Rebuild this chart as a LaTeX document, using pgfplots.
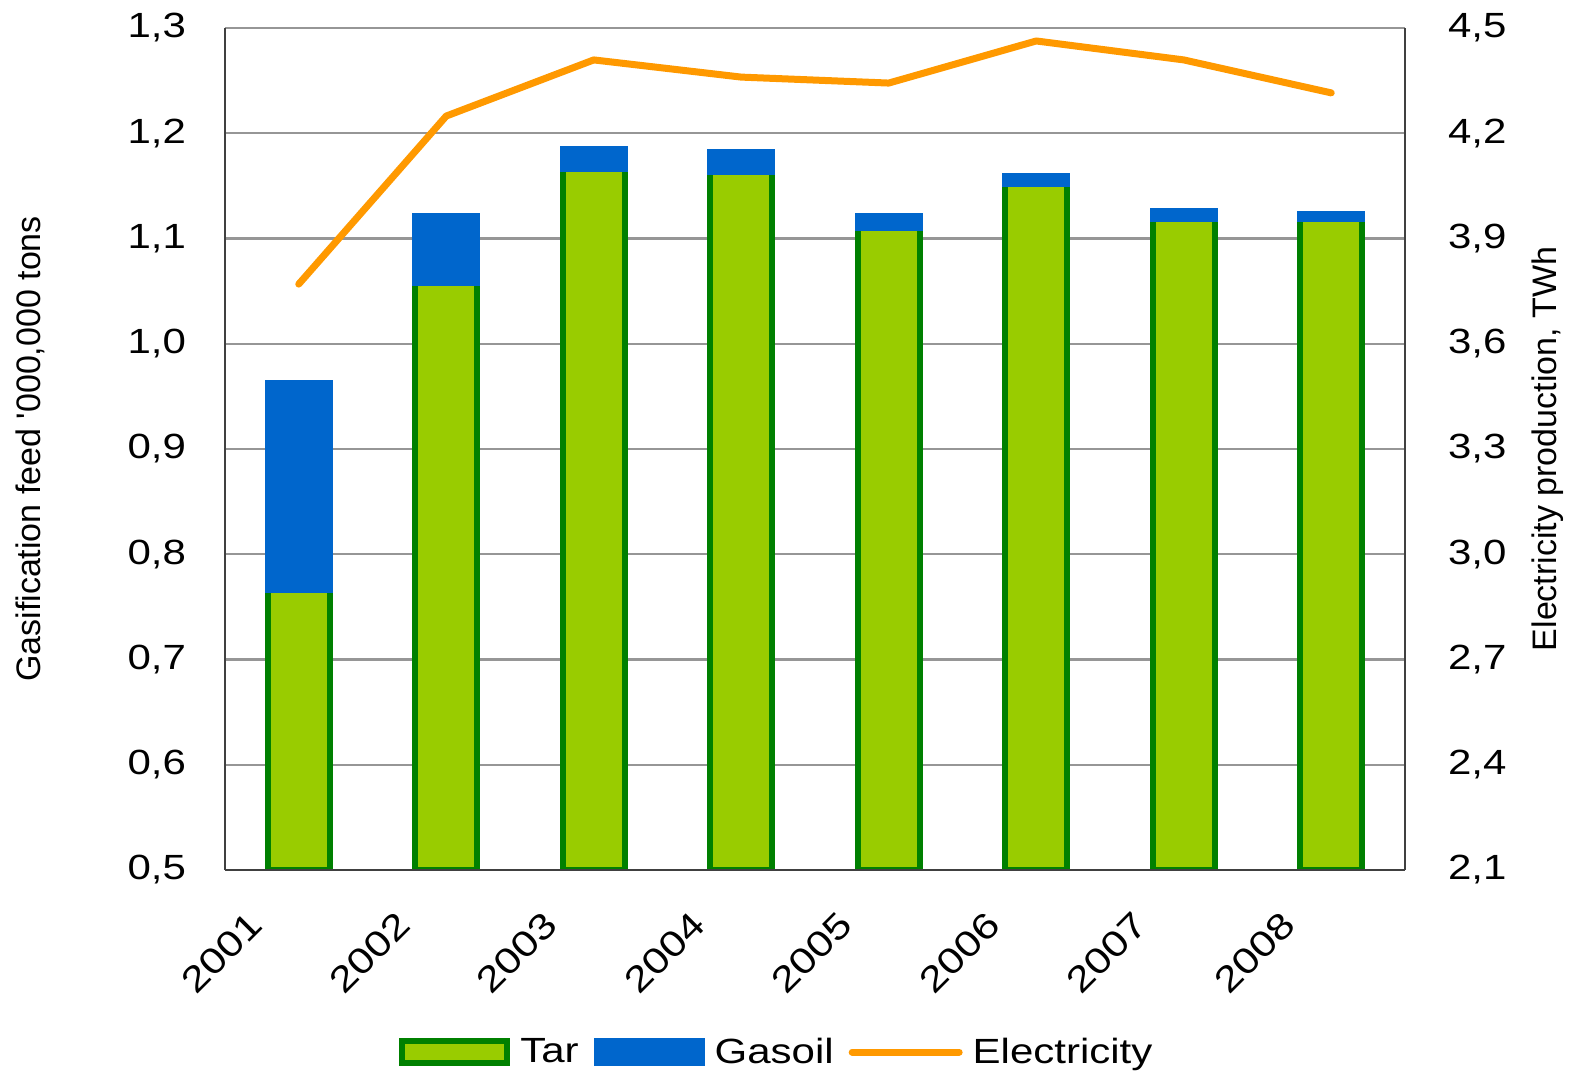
\documentclass[border=0pt]{standalone}
\usepackage{pgfplots}
\pgfplotsset{compat=1.18}
\usepackage{fontspec}
\setmainfont{Liberation Sans}[FakeStretch=1.2]
\newfontfamily\ylfont{Liberation Sans}
\definecolor{tarfill}{HTML}{99CC00}
\definecolor{tarline}{HTML}{008000}
\definecolor{gasoil}{HTML}{0066CC}
\definecolor{elec}{HTML}{FF9900}
\definecolor{gridc}{HTML}{969696}
\definecolor{axc}{HTML}{404040}
\begin{document}
\begin{tikzpicture}
\useasboundingbox (-112.5pt,-102pt) rectangle (673.5pt,435pt);
\pgfplotsset{
  base/.style={
    width=590pt, height=421pt, scale only axis,
    xmin=-0.5, xmax=7.5,
    axis line style={axc, line width=1.2pt},
    major tick length=0pt,
    /pgf/number format/assume math mode=true,
    /pgf/number format/use comma,
    /pgf/number format/fixed,
    /pgf/number format/fixed zerofill,
    /pgf/number format/precision=1,
    tick label style={font=\fontsize{17.5}{20}\selectfont},
    label style={font=\ylfont\fontsize{17}{20}\selectfont},
  }
}
\begin{axis}[base,
  axis y line*=left, axis x line*=bottom,
  ymin=0.5, ymax=1.3, ytick={0.5,0.6,0.7,0.8,0.9,1.0,1.1,1.2,1.3},
  ymajorgrids, grid style={gridc, line width=1.2pt},
  xtick={0,1,2,3,4,5,6,7},
  xticklabels={2001,2002,2003,2004,2005,2006,2007,2008},
  xticklabel style={xshift=-26pt, yshift=-15pt, rotate=45, anchor=north east, font=\fontsize{18}{21}\selectfont},
  yticklabel style={xshift=-16pt},
  ylabel={Gasification feed '000,000 tons},
  ylabel style={at={(axis description cs:-0.1653,0.5)}, anchor=center},
  ybar stacked, reverse stacked plots=false,
]
\addplot[fill=tarfill, draw=tarline, line width=3pt, bar width=31pt] coordinates {
(0,0.7675) (1,1.0591) (2,1.1675) (3,1.1646) (4,1.1114) (5,1.1532) (6,1.1200) (7,1.1200)};
\addplot[fill=gasoil, draw=gasoil, line width=4.5pt, bar width=29.5pt] coordinates {
(0,0.194) (1,0.061) (2,0.016) (3,0.016) (4,0.009) (5,0.005) (6,0.005) (7,0.002)};
\end{axis}
\begin{axis}[base,
  axis y line*=right, axis x line*=bottom,
  xtick=\empty,
  ymin=2.1, ymax=4.5, ytick={2.1,2.4,2.7,3.0,3.3,3.6,3.9,4.2,4.5},
  yticklabel style={xshift=18pt},
  ylabel={Electricity production, TWh},
  ylabel style={at={(axis description cs:1.1212,0.5)}, anchor=center},
  legend columns=3,
  legend style={at={(axis description cs:0.4685,-0.2162)}, anchor=center, draw=none, fill=none,
    font=\fontsize{17.5}{20}\selectfont,
    /tikz/every odd column/.append style={column sep=3pt},
    /tikz/every even column/.append style={column sep=5.5pt}},
  legend cell align=left,
]
\addlegendimage{legend image code/.code={\draw[fill=tarfill, draw=tarline, line width=3pt] (0pt,-5.5pt) rectangle (52.5pt,5.5pt);}}
\addlegendentry{Tar}
\addlegendimage{legend image code/.code={\draw[fill=gasoil, draw=gasoil, line width=3pt] (0pt,-5.5pt) rectangle (52.5pt,5.5pt);}}
\addlegendentry{Gasoil}
\addplot[elec, line width=3.5pt, line cap=round, line join=round,
  legend image code/.code={\draw[elec, line width=3.5pt, line cap=round] (1.5pt,0pt) -- (55pt,0pt);}]
  coordinates {(0,3.770) (1,4.249) (2,4.409) (3,4.360) (4,4.343) (5,4.463) (6,4.409) (7,4.315)};
\addlegendentry{Electricity}
\end{axis}
\end{tikzpicture}
\end{document}
